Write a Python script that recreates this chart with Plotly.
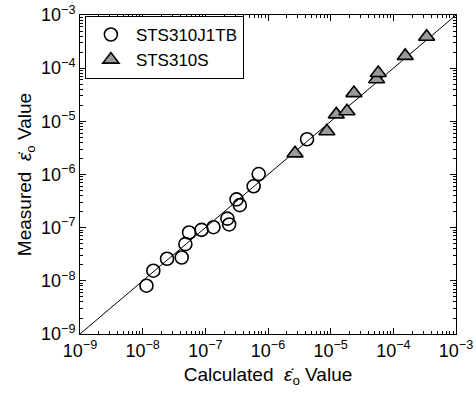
import plotly.graph_objects as go

# Creep strain-rate comparison: calculated vs measured (log-log)
j1tb_calc = [1.15e-8, 1.48e-8, 2.45e-8, 4.2e-8, 4.8e-8, 5.5e-8, 8.7e-8, 1.35e-7,
             2.25e-7, 2.4e-7, 3.15e-7, 3.55e-7, 5.9e-7, 7.1e-7, 4.2e-6]
j1tb_meas = [8.1e-9, 1.55e-8, 2.6e-8, 2.75e-8, 4.9e-8, 8.1e-8, 9.1e-8, 1.02e-7,
             1.48e-7, 1.15e-7, 3.4e-7, 2.65e-7, 6.0e-7, 1.02e-6, 4.6e-6]

s_calc = [2.7e-6, 8.7e-6, 1.23e-5, 1.82e-5, 2.35e-5, 5.4e-5, 5.75e-5, 1.55e-4, 3.4e-4]
s_meas = [2.5e-6, 6.5e-6, 1.35e-5, 1.55e-5, 3.4e-5, 6.2e-5, 8.1e-5, 1.7e-4, 3.9e-4]

line_x = [1e-9, 1e-3]
line_y = [1e-9, 1e-3]

exponents = [-9, -8, -7, -6, -5, -4, -3]
tick_vals = [10.0 ** e for e in exponents]
tick_text = [f"10<sup>\u2212{-e}</sup>" for e in exponents]
minor_vals = [m * 10.0 ** e for e in exponents[:-1] for m in range(2, 10)]

font = "Liberation Sans, Arial, sans-serif"

fig = go.Figure()
fig.add_trace(go.Scatter(x=line_x, y=line_y, mode="lines",
                         line=dict(color="black", width=1), showlegend=False,
                         hoverinfo="skip"))
fig.add_trace(go.Scatter(x=j1tb_calc, y=j1tb_meas, mode="markers", name="STS310J1TB",
                         marker=dict(symbol="circle-open", size=13, color="black",
                                     line=dict(width=1.6, color="black"))))
fig.add_trace(go.Scatter(x=s_calc, y=s_meas, mode="markers", name="STS310S",
                         marker=dict(symbol="triangle-up", size=14, color="#9a9a9a",
                                     line=dict(width=1.6, color="black"))))

axis_common = dict(
    type="log", range=[-9, -3], tickmode="array", tickvals=tick_vals, ticktext=tick_text,
    showgrid=False, zeroline=False, showline=True, linecolor="black", linewidth=1,
    mirror="allticks", ticks="inside", ticklen=6, tickcolor="black", automargin=False,
    tickfont=dict(family=font, size=18, color="black"),
    minor=dict(tickmode="array", tickvals=minor_vals, ticks="inside", ticklen=3,
               tickcolor="black", showgrid=False),
)

fig.update_xaxes(**axis_common,
                 title=dict(text="Calculated  <i>ε̇</i><sub>o</sub> Value",
                            font=dict(family=font, size=19, color="black"), standoff=8))
fig.update_yaxes(**axis_common,
                 title=dict(text="Measured  <i>ε̇</i><sub>o</sub> Value",
                            font=dict(family=font, size=19, color="black"), standoff=4))

fig.update_layout(
    width=476, height=407,
    margin=dict(l=80, r=20, t=15, b=73),
    paper_bgcolor="white", plot_bgcolor="white",
    legend=dict(x=0.013, y=0.997, xanchor="left", yanchor="top",
                bordercolor="black", borderwidth=1, bgcolor="white",
                font=dict(family=font, size=17, color="black"),
                tracegroupgap=0, itemwidth=40),
)

fig.write_html("out.html")
